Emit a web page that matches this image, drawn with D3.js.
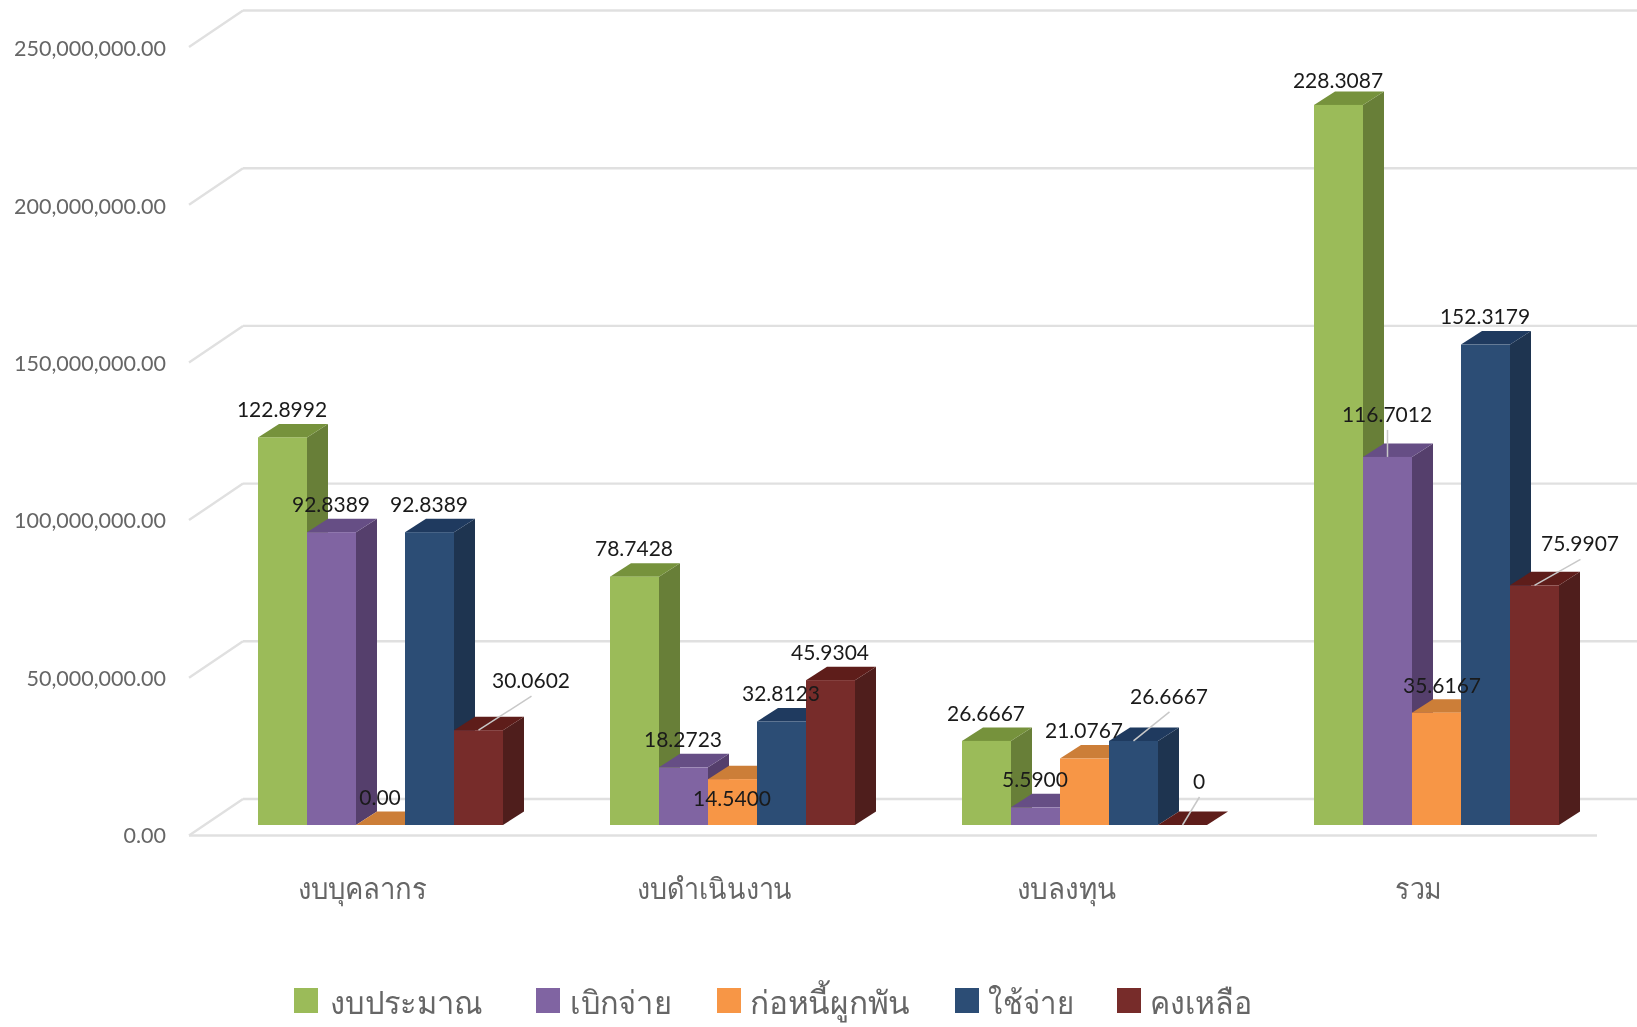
<!DOCTYPE html>
<html>
<head>
<meta charset="utf-8">
<script src="https://d3js.org/d3.v7.min.js"></script>
<style>
html, body { margin: 0; padding: 0; background: #fff; }
svg { display: block; filter: blur(0.5px); }
text { font-family: Lato, "Noto Sans", sans-serif; }
</style>
</head>
<body>
<svg id="chart" width="1637" height="1027"></svg>
<script>
var categories = ["งบบุคลากร", "งบดำเนินงาน", "งบลงทุน", "รวม"];
var seriesNames = ["งบประมาณ", "เบิกจ่าย", "ก่อหนี้ผูกพัน", "ใช้จ่าย", "คงเหลือ"];

// values in baht
var budget    = [122899200, 78742800, 26666700, 228308700];
var disbursed = [92838900, 18272300, 5590000, 116701200];
var committed = [0, 14540000, 21076700, 35616700];
var spent     = [92838900, 32812300, 26666700, 152317900];
var remaining = [30060200, 45930400, 0, 75990700];
var seriesValues = [budget, disbursed, committed, spent, remaining];

// data labels as printed on the chart
var budgetLabels    = ["122.8992", "78.7428", "26.6667", "228.3087"];
var disbursedLabels = ["92.8389", "18.2723", "5.5900", "116.7012"];
var committedLabels = ["0.00", "14.5400", "21.0767", "35.6167"];
var spentLabels     = ["92.8389", "32.8123", "26.6667", "152.3179"];
var remainingLabels = ["30.0602", "45.9304", "0", "75.9907"];
var seriesLabels = [budgetLabels, disbursedLabels, committedLabels, spentLabels, remainingLabels];

var yTicks = [0, 50000000, 100000000, 150000000, 200000000, 250000000];

var frontColors = ["#9bbb59", "#8064a2", "#f79646", "#2c4d75", "#772c2a"];
var sideColors  = ["#687f38", "#553f6c", "#b46c2e", "#1e3450", "#4f1e1c"];
var topColors   = ["#76923c", "#664e85", "#cc7e38", "#1f3a5f", "#5e1d1a"];

// labels that were dragged away from the bar in the original: [series, category, dx, dy, leader]
var labelMoves = [
	[0, 3, 0, 3, false],
	[4, 0, 53, -22, true],
	[1, 3, 0, -15, true],
	[2, 1, 0, 47, false],
	[2, 3, 6, 0, false],
	[3, 2, 36, -17, true],
	[4, 2, 17, -16, true],
	[4, 3, 46, -14, true]
];

var legendX = [294, 536, 717, 955, 1117];
var legendTextX = [36, 34, 33, 33, 33];
var legendWidths = [153, 102, 160, 86, 102];
var categoryWidths = [130, 155, 99, 47];

var svg = d3.select("#chart");

var yBase = 825, yTop = 36.5;
var frontDrop = 10.5, backRise = 26, wallDx = 54;
var depthX = 21, depthY = 13.5;

var y = d3.scaleLinear().domain([0, 250000000]).range([yBase, yTop]);
var x = d3.scaleBand().domain(categories).range([189, 1597]);
var xBar = d3.scaleBand().domain(d3.range(5)).range([69, 69 + 5 * 49]);

// walls: slanted line at the left, gridline along the back
var grid = svg.append("g");
yTicks.forEach(function(t) {
	grid.append("line")
		.attr("x1", 189).attr("y1", y(t) + frontDrop)
		.attr("x2", 189 + wallDx).attr("y2", y(t) - backRise);
	grid.append("line")
		.attr("x1", 189 + wallDx).attr("y1", y(t) - backRise)
		.attr("x2", 1637).attr("y2", y(t) - backRise);
});
grid.append("line")
	.attr("x1", 189).attr("y1", y(0) + frontDrop)
	.attr("x2", 1597).attr("y2", y(0) + frontDrop);
grid.selectAll("line").attr("stroke", "#e0e0e0").attr("stroke-width", 2.4);

// y axis labels only
var yAxis = d3.axisLeft(d3.scaleLinear().domain(y.domain()).range([yBase + frontDrop, yTop + frontDrop + 2]))
	.tickValues(yTicks)
	.tickFormat(d3.format(",.2f"))
	.tickSize(0)
	.tickPadding(0);
var yG = svg.append("g").attr("transform", "translate(166,0)").call(yAxis);
yG.select(".domain").remove();
yG.selectAll("text").attr("font-size", 21.5).attr("fill", "#666").style("font-family", "Lato");

function barX(s, c) { return x(categories[c]) + xBar(s); }

// bars, left to right so that each front hides the side of the one before
var bars = svg.append("g");
categories.forEach(function(cat, c) {
	seriesValues.forEach(function(vals, s) {
		var x0 = barX(s, c), w = xBar.bandwidth(), y0 = y(0), y1 = y(vals[c]);
		var g = bars.append("g");
		g.append("path").attr("fill", sideColors[s])
			.attr("d", d3.line()([[x0 + w, y1], [x0 + w + depthX, y1 - depthY], [x0 + w + depthX, y0 - depthY], [x0 + w, y0]]) + "Z");
		g.append("path").attr("fill", topColors[s])
			.attr("d", d3.line()([[x0, y1], [x0 + depthX, y1 - depthY], [x0 + w + depthX, y1 - depthY], [x0 + w, y1]]) + "Z");
		g.append("rect").attr("fill", frontColors[s])
			.attr("x", x0).attr("y", y1).attr("width", w).attr("height", y0 - y1);
	});
});

// data labels and leader lines
var labels = svg.append("g");
categories.forEach(function(cat, c) {
	seriesLabels.forEach(function(list, s) {
		var move = labelMoves.filter(function(m) { return m[0] == s && m[1] == c; })[0];
		var dx = move ? move[2] : 0, dy = move ? move[3] : 0;
		var cx = barX(s, c) + xBar.bandwidth() / 2, top = y(seriesValues[s][c]);
		if (move && move[4]) {
			labels.append("line")
				.attr("x1", cx).attr("y1", top)
				.attr("x2", cx + dx).attr("y2", top + dy - 12)
				.attr("stroke", "#c8c8c8").attr("stroke-width", 1.5);
		}
		labels.append("text")
			.attr("x", cx + dx - 0.5).attr("y", top - 27.5 + dy)
			.attr("dy", "0.35em")
			.attr("text-anchor", "middle")
			.attr("font-size", 21)
			.attr("fill", "#1a1a1a")
			.text(list[c]);
	});
});

// category labels
svg.append("g").selectAll("text").data(categories).enter().append("text")
	.attr("x", function(d) { return x(d) + x.bandwidth() / 2 - 2.5; })
	.attr("y", 889)
	.attr("dy", "0.35em")
	.attr("text-anchor", "middle")
	.attr("font-size", 29)
	.attr("fill", "#666")
	.attr("textLength", function(d, i) { return categoryWidths[i]; })
	.attr("lengthAdjust", "spacingAndGlyphs")
	.style("font-family", "'Noto Sans', sans-serif")
	.text(function(d) { return d; });

// legend
var legend = svg.append("g").selectAll("g").data(seriesNames).enter().append("g")
	.attr("transform", function(d, i) { return "translate(" + legendX[i] + ",0)"; });
legend.append("rect")
	.attr("y", 988).attr("width", 24).attr("height", 25)
	.attr("fill", function(d, i) { return frontColors[i]; });
legend.append("text")
	.attr("x", function(d, i) { return legendTextX[i]; }).attr("y", 1003)
	.attr("dy", "0.35em")
	.attr("font-size", 32)
	.attr("fill", "#666")
	.attr("textLength", function(d, i) { return legendWidths[i]; })
	.attr("lengthAdjust", "spacingAndGlyphs")
	.style("font-family", "'Noto Sans', sans-serif")
	.text(function(d) { return d; });
</script>
</body>
</html>
